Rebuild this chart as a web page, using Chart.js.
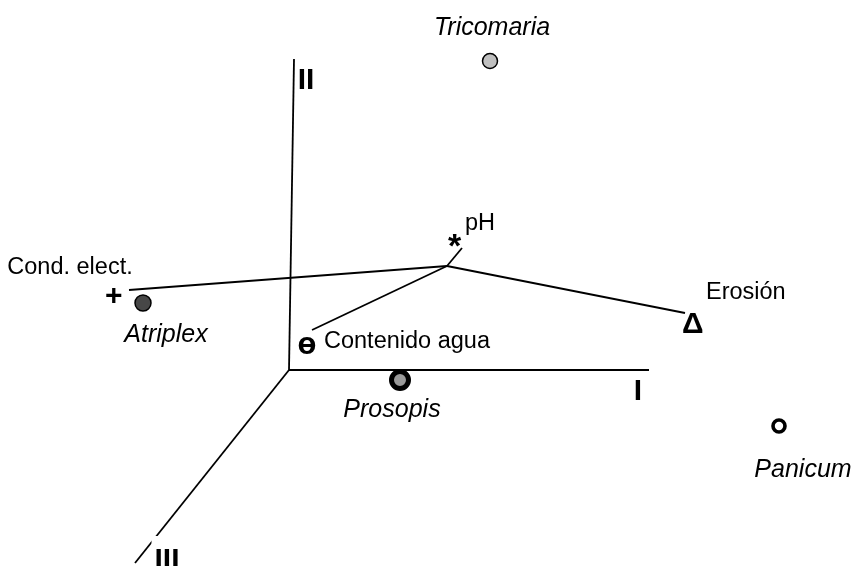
<!DOCTYPE html>
<html><head><meta charset="utf-8">
<script src="https://cdn.jsdelivr.net/npm/chart.js@4"></script>
<style>html,body{margin:0;padding:0;background:#fff}#wrap{width:854px;height:566px;position:relative}</style>
</head><body><div id="wrap"><canvas id="c"></canvas></div>
<script>
// Ordination scores (axes origin at 0,0)
const axisNames = ['I', 'II', 'III'];
const axisEndX = [3.60, 0.05, -1.54];
const axisEndY = [0.00, 3.11, -1.93];

const species = ['Tricomaria', 'Atriplex', 'Prosopis', 'Panicum'];
const speciesX = [2.01, -1.46, 1.11, 4.90];
const speciesY = [3.09, 0.67, -0.10, -0.56];

const variables = ['Cond. elect.', 'pH', 'Contenido agua', 'Erosión'];
const variableSymbols = ['+', '*', 'ө', 'Δ'];
const vectorOrigin = [1.58, 1.04];
const vectorEndX = [-1.60, 1.73, 0.23, 3.96];
const vectorEndY = [0.80, 1.22, 0.40, 0.57];
const symbolX = [-1.75, 1.66, 0.18, 4.04];
const symbolY = [0.75, 1.30, 0.25, 0.47];

// ---- styles (pixel offsets for labels) ----
const FONT = "'Liberation Sans', Arial, Helvetica, sans-serif";
const speciesStyle = [
  { dx: 2, dy: -26 }, { dx: 23, dy: 39 }, { dx: -8, dy: 37 }, { dx: 24, dy: 51 }
];
const variableStyle = [
  { dx: -44, dy: -21, align: 'center' }, { dx: 10, dy: -10, align: 'left' },
  { dx: 17, dy: 3, align: 'left' }, { dx: 13, dy: -24, align: 'left' }
];
const symbolSize = [30, 34, 31, 30];
const axisStyle = [
  { dx: -11, dy: 30 }, { dx: 12, dy: 30 }, { dx: 32, dy: 6, bg: true }
];

const datasets = [];
datasets.push({
  data: speciesX.map((x, i) => ({ x, y: speciesY[i] })),
  showLine: false,
  pointRadius: [7.5, 8, 8.5, 6],
  pointBackgroundColor: ['#c0c0c0', '#474747', '#999999', '#ffffff'],
  pointBorderColor: '#000',
  pointBorderWidth: [1.5, 1.5, 5, 3.6],
  order: 0, clip: false
});
axisNames.forEach((n, i) => datasets.push({
  data: [{ x: 0, y: 0 }, { x: axisEndX[i], y: axisEndY[i] }],
  showLine: true, pointRadius: 0, borderColor: '#000', borderWidth: 1.8, order: 2, clip: false
}));
variables.forEach((n, i) => datasets.push({
  data: [{ x: vectorOrigin[0], y: vectorOrigin[1] }, { x: vectorEndX[i], y: vectorEndY[i] }],
  showLine: true, pointRadius: 0, borderColor: '#000', borderWidth: 1.8, order: 2, clip: false
}));

const labelPlugin = {
  id: 'labels',
  afterDatasetsDraw(chart) {
    const ctx = chart.ctx, xs = chart.scales.x, ys = chart.scales.y;
    ctx.save();
    ctx.fillStyle = '#000';
    ctx.textBaseline = 'alphabetic';
    // species labels
    ctx.font = 'italic 25px ' + FONT;
    ctx.textAlign = 'center';
    species.forEach((s, i) => {
      const px = xs.getPixelForValue(speciesX[i]), py = ys.getPixelForValue(speciesY[i]);
      ctx.fillText(s, px + speciesStyle[i].dx, py + speciesStyle[i].dy);
    });
    // variable symbols, centred on their glyph box
    variableSymbols.forEach((s, i) => {
      ctx.font = 'bold ' + symbolSize[i] + 'px ' + FONT;
      ctx.textAlign = 'left';
      const m = ctx.measureText(s);
      const px = xs.getPixelForValue(symbolX[i]), py = ys.getPixelForValue(symbolY[i]);
      const w = m.actualBoundingBoxRight + m.actualBoundingBoxLeft;
      const h = m.actualBoundingBoxAscent + m.actualBoundingBoxDescent;
      ctx.fillText(s, px - w / 2 + m.actualBoundingBoxLeft, py + h / 2 - m.actualBoundingBoxDescent);
    });
    // variable labels
    ctx.font = '23.5px ' + FONT;
    variables.forEach((v, i) => {
      const px = xs.getPixelForValue(symbolX[i]), py = ys.getPixelForValue(symbolY[i]);
      ctx.textAlign = variableStyle[i].align;
      ctx.fillText(v, px + variableStyle[i].dx, py + variableStyle[i].dy);
    });
    // axis labels
    ctx.font = 'bold 30px ' + FONT;
    ctx.textAlign = 'center';
    axisNames.forEach((a, i) => {
      const px = xs.getPixelForValue(axisEndX[i]) + axisStyle[i].dx;
      const py = ys.getPixelForValue(axisEndY[i]) + axisStyle[i].dy;
      if (axisStyle[i].bg) {
        const w = ctx.measureText(a).width;
        ctx.fillStyle = '#fff';
        ctx.fillRect(px - w / 2 - 3, py - 33, w + 6, 40);
        ctx.fillStyle = '#000';
      }
      ctx.fillText(a, px, py);
    });
    ctx.restore();
  }
};

new Chart(document.getElementById('c'), {
  type: 'scatter',
  data: { datasets },
  options: {
    responsive: true, maintainAspectRatio: false, animation: false, events: [],
    layout: { padding: 0, autoPadding: false },
    scales: {
      x: { type: 'linear', min: -2.89, max: 5.65, display: false },
      y: { type: 'linear', min: -1.96, max: 3.70, display: false }
    },
    plugins: { legend: { display: false }, tooltip: { enabled: false } }
  },
  plugins: [labelPlugin]
});
</script></body></html>
